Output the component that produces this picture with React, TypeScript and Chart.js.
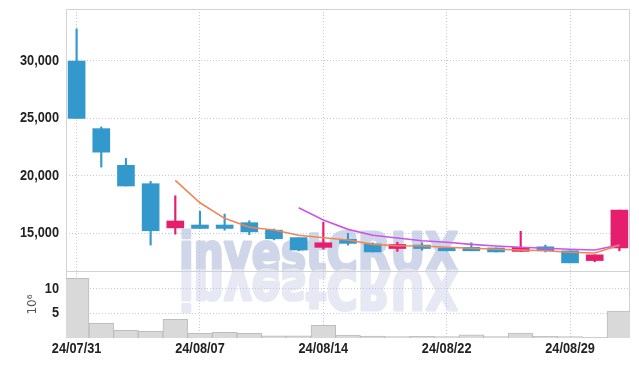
import { useEffect, useRef } from 'react';
import { Chart, registerables } from 'chart.js';

Chart.register(...registerables);

const dates = [
  '24/07/31', '24/08/01', '24/08/02', '24/08/05', '24/08/06', '24/08/07', '24/08/08', '24/08/09',
  '24/08/12', '24/08/13', '24/08/14', '24/08/16', '24/08/19', '24/08/20', '24/08/21', '24/08/22',
  '24/08/23', '24/08/26', '24/08/27', '24/08/28', '24/08/29', '24/08/30', '24/09/02',
];
const openP = [30000, 24100, 20900, 19300, 15450, 15700, 15700, 15900, 15250, 14600, 13750, 14450, 14050, 13650, 13950, 13700, 13750, 13700, 13400, 13800, 13450, 12600, 13700];
const closeP = [25000, 22050, 19100, 15200, 16050, 15400, 15400, 15100, 14500, 13520, 14150, 14100, 13350, 14000, 13650, 13450, 13450, 13350, 13750, 13450, 12400, 13100, 17000];
const highP = [32800, 24250, 21500, 19500, 18250, 16900, 16650, 16070, 15350, 14600, 15950, 14970, 14150, 14200, 14150, 13700, 14150, 13700, 15150, 13950, 13450, 13100, 17000];
const lowP = [25000, 20750, 19100, 13950, 14900, 15400, 15250, 14850, 14400, 13450, 13600, 13950, 13350, 13400, 13500, 13450, 13450, 13350, 13400, 13350, 12400, 12500, 13450];
const ma5 = [null, null, null, null, 19590, 17640, 16280, 15500, 15260, 14800, 14590, 14390, 14015, 13895, 13870, 13755, 13670, 13580, 13520, 13460, 13320, 13260, 13930];
const ma10 = [null, null, null, null, null, null, null, null, null, 17200, 16130, 15320, 14800, 14565, 14330, 14190, 14015, 13870, 13755, 13670, 13580, 13520, 13955];
const volume = [12.0, 2.96, 1.55, 1.35, 3.77, 0.95, 1.15, 0.95, 0.46, 0.46, 2.56, 0.6, 0.4, 0.3, 0.35, 0.3, 0.65, 0.3, 1.0, 0.35, 0.3, 0.1, 5.4];

const xTickIndex = [0, 5, 10, 15, 20];
const priceTicks = [15000, 20000, 25000, 30000];
const volTicks = [5, 10];

const UP = '#e61e6e';
const DOWN = '#3399cc';
const GRID = 'rgba(190,195,222,0.9)';
const BORDER = '#d2d2d2';
const LABEL_FONT = "bold 15px 'Liberation Sans', Arial, sans-serif";
const LABEL_SCALE = 0.85;

const watermark = {
  id: 'watermark',
  beforeDraw(chart: any) {
    const { ctx, chartArea } = chart;
    const base = chart.scales.vol.top;
    const left = chartArea.left + 113;
    const text = 'investCRUX';
    ctx.save();
    ctx.font = "bold 53px 'DejaVu Sans', sans-serif";
    ctx.textAlign = 'left';
    ctx.textBaseline = 'alphabetic';
    ctx.lineJoin = 'round';
    const w = ctx.measureText(text).width;
    const sx = 279 / w;
    const paint = (sy: number, color: string) => {
      ctx.save();
      ctx.translate(left, base);
      ctx.scale(sx, sy);
      ctx.fillStyle = color;
      ctx.strokeStyle = color;
      ctx.lineWidth = 3;
      ctx.fillText(text, 0, 0);
      ctx.strokeText(text, 0, 0);
      ctx.restore();
    };
    paint(1, 'rgb(208,214,233)');
    paint(-1, 'rgb(230,233,243)');
    ctx.restore();
  },
};

const frame = {
  id: 'frame',
  beforeDatasetsDraw(chart: any) {
    const { ctx, chartArea } = chart;
    const l = Math.round(chartArea.left) + 0.5;
    const r = Math.round(chartArea.right) - 0.5;
    const t = Math.round(chartArea.top) + 0.5;
    const b = Math.round(chartArea.bottom) - 0.5;
    const d = Math.round(chart.scales.vol.top) + 0.5;
    ctx.save();
    ctx.strokeStyle = BORDER;
    ctx.lineWidth = 1;
    ctx.beginPath();
    ctx.rect(l, t, r - l, b - t);
    ctx.moveTo(l, d);
    ctx.lineTo(r, d);
    ctx.stroke();
    ctx.restore();
  },
};

const tickLabels = {
  id: 'tickLabels',
  afterDraw(chart: any) {
    const { ctx } = chart;
    const draw = (text: string, x: number, y: number, align: string) => {
      ctx.save();
      ctx.translate(x, y);
      ctx.scale(LABEL_SCALE, 1);
      ctx.textAlign = align;
      ctx.textBaseline = 'middle';
      ctx.fillText(text, 0, 0);
      ctx.restore();
    };
    ctx.save();
    ctx.font = LABEL_FONT;
    ctx.fillStyle = '#222';
    const ys = chart.scales.y;
    priceTicks.forEach((v) => draw(v.toLocaleString('en-US'), ys.right - 7, ys.getPixelForValue(v), 'right'));
    const vs = chart.scales.vol;
    volTicks.forEach((v) => draw(String(v), vs.right - 7, vs.getPixelForValue(v), 'right'));
    const xs = chart.scales.x;
    xTickIndex.forEach((i) => draw(dates[i], xs.getPixelForValue(i), xs.top + 11, 'center'));
    ctx.restore();
  },
};

export default function App() {
  const ref = useRef<HTMLCanvasElement>(null);

  useEffect(() => {
    if (!ref.current) return;
    const idx = dates.map((_, i) => i);
    const colors = idx.map((i) => (closeP[i] >= openP[i] ? UP : DOWN));
    const noPad = (s: any) => {
      s.paddingTop = 0;
      s.paddingBottom = 0;
      s.paddingLeft = 0;
      s.paddingRight = 0;
    };
    const chart = new Chart(ref.current, {
      type: 'bar',
      data: {
        datasets: [
          {
            type: 'line',
            label: 'MA5',
            data: idx.map((i) => ({ x: i, y: ma5[i] })),
            borderColor: '#ef8655',
            borderWidth: 1.6,
            pointRadius: 0,
            spanGaps: false,
            yAxisID: 'y',
            order: 0,
          } as any,
          {
            type: 'line',
            label: 'MA10',
            data: idx.map((i) => ({ x: i, y: ma10[i] })),
            borderColor: '#cc55e8',
            borderWidth: 1.6,
            pointRadius: 0,
            spanGaps: false,
            yAxisID: 'y',
            order: 0,
          } as any,
          {
            label: 'body',
            data: idx.map((i) => ({ x: i, y: [openP[i], closeP[i]] })),
            backgroundColor: colors,
            borderWidth: 0,
            barThickness: 17,
            grouped: false,
            yAxisID: 'y',
            order: 1,
          } as any,
          {
            label: 'wick',
            data: idx.map((i) => ({ x: i, y: [lowP[i], highP[i]] })),
            backgroundColor: colors,
            borderWidth: 0,
            barThickness: 1.5,
            grouped: false,
            yAxisID: 'y',
            order: 2,
          } as any,
          {
            label: 'volume',
            data: idx.map((i) => ({ x: i, y: volume[i] })),
            backgroundColor: '#d9d9d9',
            borderColor: '#bdbdbd',
            borderWidth: 1,
            barPercentage: 1,
            categoryPercentage: 1,
            grouped: false,
            yAxisID: 'vol',
            order: 3,
          } as any,
        ],
      },
      options: {
        animation: false,
        responsive: false,
        maintainAspectRatio: false,
        layout: { padding: { top: 9, right: 9, left: 0, bottom: 0 } },
        plugins: { legend: { display: false }, tooltip: { enabled: false } },
        scales: {
          x: {
            type: 'linear',
            min: -0.43,
            max: 22.43,
            offset: false,
            afterBuildTicks: (s: any) => {
              s.ticks = xTickIndex.map((v) => ({ value: v }));
            },
            afterFit: (s: any) => {
              s.height = 28;
              noPad(s);
            },
            grid: { offset: false, color: GRID, drawTicks: false },
            border: { display: false, dash: [1, 2] },
            ticks: { display: false },
          },
          vol: {
            type: 'linear',
            position: 'left',
            stack: 'main',
            stackWeight: 67,
            min: 0,
            max: 13.5,
            afterBuildTicks: (s: any) => {
              s.ticks = volTicks.map((v) => ({ value: v }));
            },
            afterFit: (s: any) => {
              s.width = 66;
              noPad(s);
            },
            grid: { color: GRID, drawTicks: false },
            border: { display: false, dash: [1, 2] },
            title: {
              display: true,
              text: '10⁶',
              color: '#555',
              padding: { top: 26, bottom: 0 },
              font: { family: "'DejaVu Sans', sans-serif", size: 12 },
            },
            ticks: { display: false },
          },
          y: {
            type: 'linear',
            position: 'left',
            stack: 'main',
            stackWeight: 262,
            min: 11690,
            max: 34530,
            afterBuildTicks: (s: any) => {
              s.ticks = priceTicks.map((v) => ({ value: v }));
            },
            afterFit: (s: any) => {
              s.width = 66;
              noPad(s);
            },
            grid: { color: GRID, drawTicks: false },
            border: { display: false, dash: [1, 2] },
            ticks: { display: false },
          },
        },
      } as any,
      plugins: [watermark, frame, tickLabels],
    });
    return () => chart.destroy();
  }, []);

  return (
    <div style={{ position: 'absolute', left: 0, top: 0, width: 639, height: 366, background: '#fff' }}>
      <canvas ref={ref} width={639} height={366} style={{ display: 'block' }} />
    </div>
  );
}
